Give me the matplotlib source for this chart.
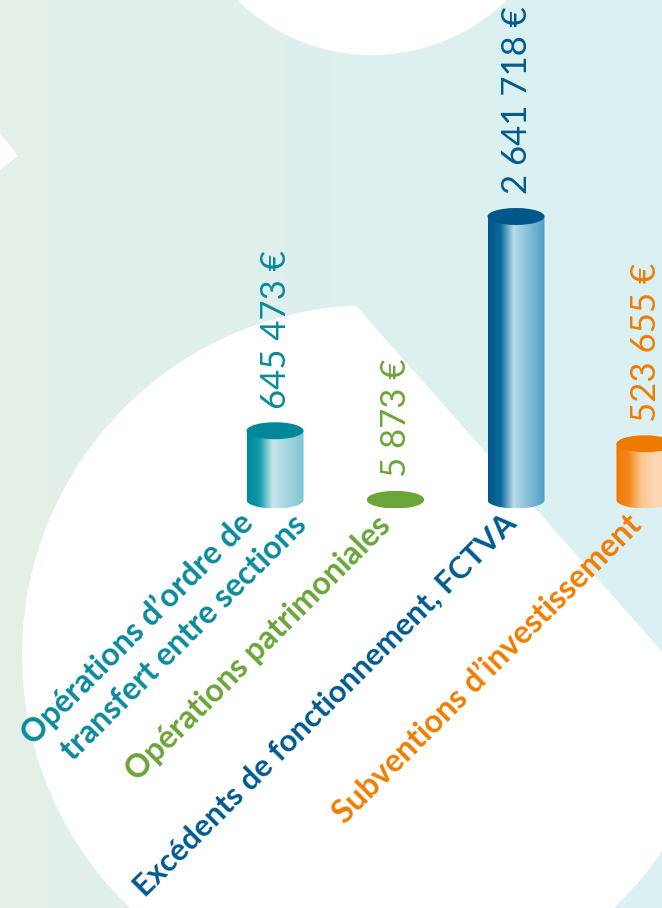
import numpy as np
import matplotlib
matplotlib.use("Agg")
import matplotlib.pyplot as plt
from matplotlib.patches import Ellipse, Circle, Polygon, PathPatch
from matplotlib.path import Path
from matplotlib.colors import LinearSegmentedColormap
from matplotlib import font_manager

# --- données ---
categories = ["Opérations d’ordre de\ntransfert entre sections",
              "Opérations patrimoniales",
              "Excédents de fonctionnement, FCTVA",
              "Subventions d’investissement"]
values = [645473, 5873, 2641718, 523655]
value_labels = ["645 473 €", "5 873 €", "2 641 718 €", "523 655 €"]

# --- styles ---
label_colors = ["#0a8a9c", "#6ba539", "#005a8e", "#ef7d00"]
top_colors = ["#00889a", "#6ba539", "#00578a", "#ef7a00"]
body_stops = [
    ["#00879a", "#129aab", "#c6e6eb", "#a4d6df", "#7fc4d1"],
    ["#6ba539", "#6ba539", "#6ba539", "#6ba539", "#6ba539"],
    ["#00578c", "#0b689c", "#b7dbe8", "#86c0d8", "#4f9ec6"],
    ["#ee7700", "#f28a1c", "#fbc894", "#fdd8b5", "#fbcfa6"],
]
xpos = np.array([0, 1, 2, 3.07])

W, H = 662, 908
fig = plt.figure(figsize=(W / 100, H / 100), dpi=100)

# fond : dégradé vert pâle -> cyan pâle, cercles blancs
bg = fig.add_axes([0, 0, 1, 1])
bg.set_xlim(0, W)
bg.set_ylim(H, 0)
bg.axis("off")
grad = LinearSegmentedColormap.from_list("bg", ["#e4efe7", "#ddf0ee", "#dbf1f3"])
bg.imshow(np.linspace(0, 1, 256)[None, :], cmap=grad, extent=(0, W, H, 0), aspect="auto")
clip = Polygon([(-42, -144), (758, 760), (758, 1000), (-42, 1000)], closed=True,
               transform=bg.transData, visible=False)
bg.add_patch(clip)
big = Circle((372, 655), 350, color="white", lw=0)
bg.add_patch(big)
big.set_clip_path(clip)
bg.add_patch(Circle((372, -138), 193, color="white", lw=0))
bg.add_patch(Polygon([(0, 133), (18, 156), (0, 170)], closed=True, color="white", lw=0))

# axes des cylindres (0 en y = 500 px, échelle sur le plus grand)
ax = fig.add_axes([0, 0, 1, 1])
ax.patch.set_alpha(0)
k = max(values) / 283.5
slot = 120.5
ax.set_xlim(-275 / slot, (W - 275) / slot)
ax.set_ylim(-(H - 500) * k, 500 * k)
ax.axis("off")

w = 57 / slot
eh = 17 * k
t = np.linspace(np.pi, 2 * np.pi, 60)
for i, (x, v) in enumerate(zip(xpos, values)):
    verts = [(x - w / 2, v), (x - w / 2, 0)]
    verts += list(zip(x + w / 2 * np.cos(t), eh / 2 * np.sin(t)))
    verts += [(x + w / 2, v), (x - w / 2, v)]
    body = PathPatch(Path(verts, closed=True), visible=False)
    ax.add_patch(body)
    cm = LinearSegmentedColormap.from_list("c%d" % i, list(zip([0, 0.22, 0.45, 0.7, 1], body_stops[i])))
    im = ax.imshow(np.linspace(0, 1, 256)[None, :], cmap=cm, aspect="auto",
                   extent=(x - w / 2, x + w / 2, -eh / 2, v), zorder=2)
    im.set_clip_path(body)
    ax.add_patch(Ellipse((x, v), w, eh, color=top_colors[i], lw=0, zorder=3))

names = {f.name for f in font_manager.fontManager.ttflist}
if "Liberation Sans Narrow" in names:
    vfont, vsize = "Liberation Sans Narrow", 30
else:
    vfont, vsize = "Lato", 25

for i, (x, v) in enumerate(zip(xpos, values)):
    ax.annotate(value_labels[i], xy=(x, v), xytext=(11, 22), textcoords="offset pixels",
                rotation=90, rotation_mode="anchor", ha="left", va="baseline",
                color=label_colors[i], fontsize=vsize, family=vfont, zorder=4)

# étiquettes en biais (fin de ligne sous chaque cylindre)
line_offsets = [[(-20, -25), (33, -27)], [(-3, -27)], [(2, -25)], [(-2, -27)]]
label_sizes = [23, 23, 22.3, 23]
for i, x in enumerate(xpos):
    for line, off in zip(categories[i].split("\n"), line_offsets[i]):
        ax.annotate(line, xy=(x, 0), xytext=off, textcoords="offset pixels",
                    rotation=45, rotation_mode="anchor", ha="right", va="baseline",
                    color=label_colors[i], fontsize=label_sizes[i], family="Lato",
                    fontweight="bold", zorder=4)

fig.savefig("out.png", dpi=100)
